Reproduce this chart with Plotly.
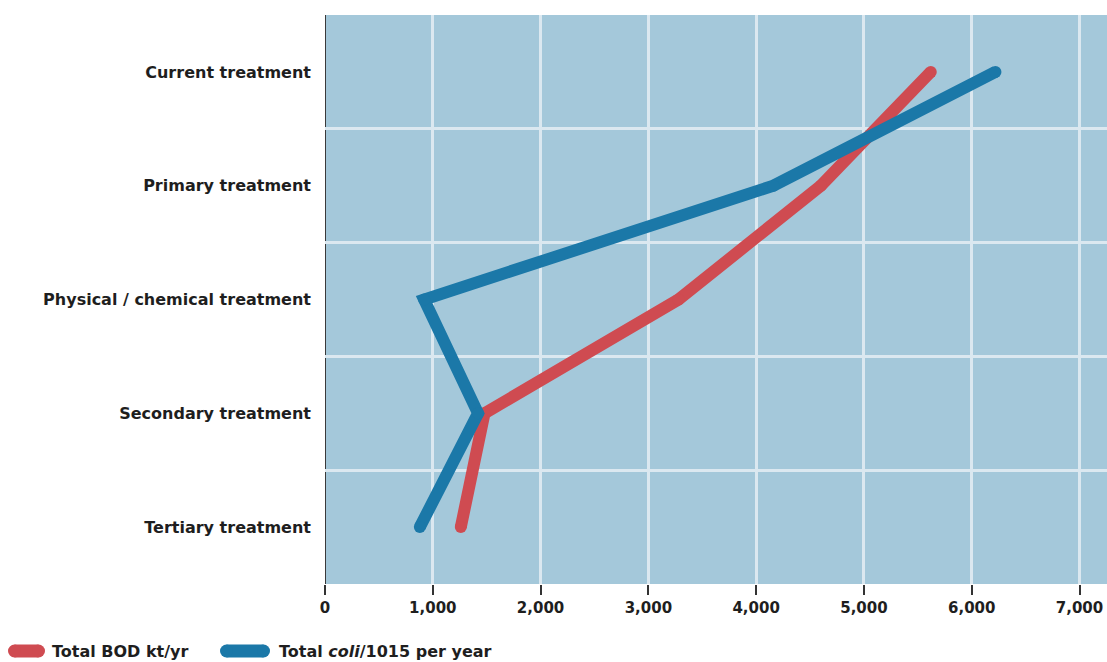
import plotly.graph_objects as go

categories = ["Tertiary treatment", "Secondary treatment", "Physical / chemical treatment",
              "Primary treatment", "Current treatment"]
bod = [1260, 1480, 3280, 4600, 5620]
coli = [880, 1420, 920, 4160, 6220]
x_ticks = [0, 1000, 2000, 3000, 4000, 5000, 6000, 7000]
x_tick_labels = ["0", "1,000", "2,000", "3,000", "4,000", "5,000", "6,000", "7,000"]
series_names = ["Total BOD kt/yr", "Total <i>coli</i>/1015 per year"]

RED = "#cf4b51"
BLUE = "#1b78a8"
FONT = "DejaVu Sans"
TXT = "#1e1e1e"
ypos = list(range(len(categories)))

W, H = 1107, 662
ML, MR, MT, MB = 325, 0, 15, 78
PW, PH = W - ML - MR, H - MT - MB


def px(xl):
    return (xl - ML) / PW


def py(yl):
    return (H - MB - yl) / PH


fig = go.Figure()
fig.add_trace(go.Scatter(
    x=bod, y=ypos, mode="lines+markers", name=series_names[0],
    line=dict(color=RED, width=12), marker=dict(color=RED, size=12),
))
fig.add_trace(go.Scatter(
    x=coli, y=ypos, mode="lines+markers", name=series_names[1],
    line=dict(color=BLUE, width=12), marker=dict(color=BLUE, size=12),
))

for xv in (0, 7000):
    fig.add_shape(type="line", xref="x", yref="paper", x0=xv, x1=xv, y0=0, y1=1,
                  line=dict(color="#3a3a3a", width=2), layer="below")

# manual legend: pill swatches + labels
legend_items = [(8, 45, 50, RED, series_names[0]), (220, 270, 277, BLUE, series_names[1])]
ly = py(651)
for x0, x1, tx, col, name in legend_items:
    r = 6.5
    cx = px((x0 + x1) / 2)
    half = (x1 - x0) / 2
    fig.add_shape(type="rect", xref="paper", yref="paper", xsizemode="pixel", ysizemode="pixel",
                  xanchor=cx, yanchor=ly, x0=-half + r, x1=half - r, y0=-r, y1=r,
                  fillcolor=col, line=dict(width=0))
    for ex in (-half + r, half - r):
        fig.add_shape(type="circle", xref="paper", yref="paper", xsizemode="pixel",
                      ysizemode="pixel", xanchor=cx, yanchor=ly,
                      x0=ex - r, x1=ex + r, y0=-r, y1=r,
                      fillcolor=col, line=dict(width=0))
    fig.add_annotation(x=px(tx), y=ly, xref="paper", yref="paper", text="<b>" + name + "</b>",
                       showarrow=False, xanchor="left", yanchor="middle",
                       font=dict(family=FONT, size=16, color=TXT))

fig.update_layout(
    width=W, height=H,
    margin=dict(l=ML, r=MR, t=MT, b=MB),
    paper_bgcolor="white", plot_bgcolor="#a4c8da",
    font=dict(family=FONT, size=15, color=TXT),
    showlegend=False,
    hovermode=False,
    xaxis=dict(range=[0, 7255], tickvals=x_ticks, ticktext=x_tick_labels,
               showgrid=True, gridcolor="#dbe8f0", gridwidth=2.5,
               zeroline=False, ticks="outside", ticklen=10, tickwidth=1.5,
               tickcolor="#333333", showline=False,
               tickfont=dict(family=FONT, size=15, color=TXT, weight="bold")),
    yaxis=dict(range=[-0.5, 4.5], tickvals=ypos, ticktext=categories,
               showgrid=False, zeroline=False, ticks="", ticklabelstandoff=13,
               tickfont=dict(family=FONT, size=16, color=TXT, weight="bold"),
               minor=dict(tick0=0.5, dtick=1, showgrid=True, gridcolor="#dbe8f0",
                          gridwidth=2.5)),
)

fig.write_html("out.html", config={"displayModeBar": False},
               post_script="document.body.style.margin='0';document.body.style.overflow='hidden';")
